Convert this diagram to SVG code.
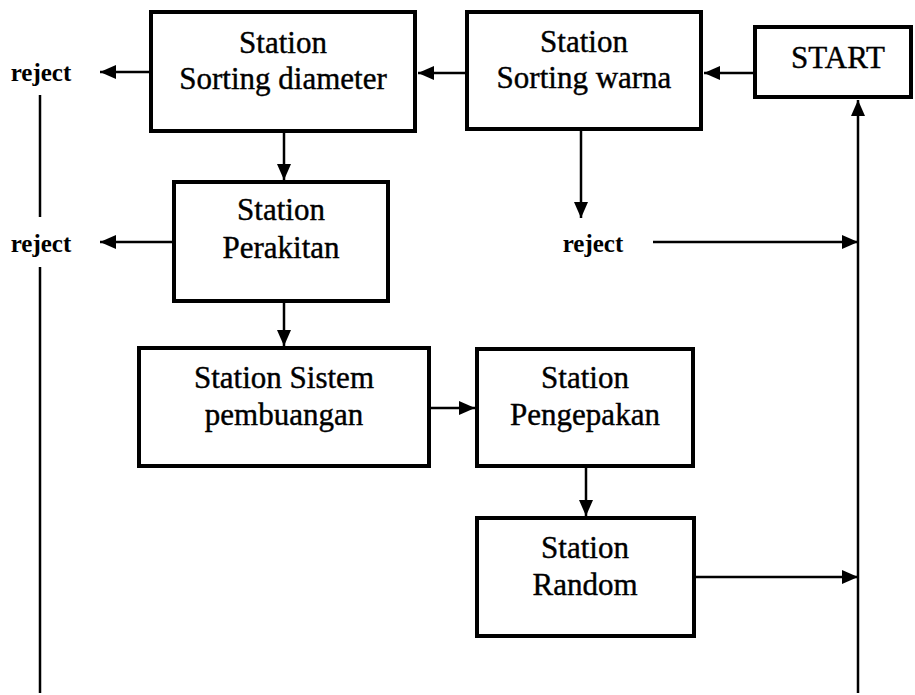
<svg xmlns="http://www.w3.org/2000/svg" width="915" height="695" viewBox="0 0 915 695">
  <style>
    .box { fill: #ffffff; stroke: #000000; stroke-width: 4; }
    .lbl { font-family: "Liberation Serif", "Times New Roman", serif; font-size: 31px; fill: #000000; text-anchor: middle; stroke: #000000; stroke-width: 0.4; }
    .rej { font-family: "Liberation Serif", "Times New Roman", serif; font-size: 25px; font-weight: bold; fill: #000000; text-anchor: middle; }
    .wire { fill: none; stroke: #000000; stroke-width: 2.5; }
    .arrow { marker-end: url(#head); }
  </style>
  <defs>
    <marker id="head" markerUnits="userSpaceOnUse" markerWidth="16" markerHeight="14" refX="16" refY="7" orient="auto">
      <path d="M0,0 L16,7 L0,14 Z" fill="#000000"/>
    </marker>
  </defs>
  <rect width="915" height="695" fill="#ffffff"/>

  <!-- connectors -->
  <g id="connectors">
    <line class="wire arrow" x1="755" y1="73" x2="704" y2="73"/>
    <line class="wire arrow" x1="465" y1="73" x2="418" y2="73"/>
    <line class="wire arrow" x1="149" y1="72" x2="100" y2="72"/>
    <line class="wire arrow" x1="284" y1="133" x2="284" y2="180"/>
    <line class="wire arrow" x1="172" y1="242" x2="100" y2="242"/>
    <line class="wire arrow" x1="284" y1="303" x2="284" y2="346"/>
    <line class="wire arrow" x1="431" y1="408" x2="475" y2="408"/>
    <line class="wire arrow" x1="586" y1="468" x2="586" y2="516"/>
    <line class="wire arrow" x1="581" y1="131" x2="581" y2="218"/>
    <line class="wire arrow" x1="653" y1="242" x2="858" y2="242"/>
    <line class="wire arrow" x1="696" y1="577" x2="858" y2="577"/>
    <line class="wire arrow" x1="858" y1="693" x2="858" y2="100"/>
    <line class="wire" x1="40" y1="95" x2="40" y2="217"/>
    <line class="wire" x1="40" y1="267" x2="40" y2="693"/>
  </g>

  <g id="start">
    <rect class="box" x="755" y="27" width="156" height="70"/>
    <text class="lbl" x="838" y="68">START</text>
  </g>

  <g id="sorting-warna">
    <rect class="box" x="467" y="12" width="234" height="117"/>
    <text class="lbl" x="584" y="52">Station</text>
    <text class="lbl" x="584" y="88">Sorting warna</text>
  </g>

  <g id="sorting-diameter">
    <rect class="box" x="151" y="12" width="264" height="119"/>
    <text class="lbl" x="283" y="53">Station</text>
    <text class="lbl" x="283" y="89">Sorting diameter</text>
  </g>

  <g id="perakitan">
    <rect class="box" x="174" y="182" width="214" height="119"/>
    <text class="lbl" x="281" y="220">Station</text>
    <text class="lbl" x="281" y="258">Perakitan</text>
  </g>

  <g id="sistem-pembuangan">
    <rect class="box" x="139" y="348" width="290" height="118"/>
    <text class="lbl" x="284" y="388">Station Sistem</text>
    <text class="lbl" x="284" y="425">pembuangan</text>
  </g>

  <g id="pengepakan">
    <rect class="box" x="477" y="349" width="216" height="117"/>
    <text class="lbl" x="585" y="388">Station</text>
    <text class="lbl" x="585" y="425">Pengepakan</text>
  </g>

  <g id="random">
    <rect class="box" x="477" y="518" width="217" height="118"/>
    <text class="lbl" x="585" y="558">Station</text>
    <text class="lbl" x="585" y="595">Random</text>
  </g>

  <g id="reject-labels">
    <text class="rej" x="41" y="81">reject</text>
    <text class="rej" x="41" y="252">reject</text>
    <text class="rej" x="593" y="252">reject</text>
  </g>
</svg>
